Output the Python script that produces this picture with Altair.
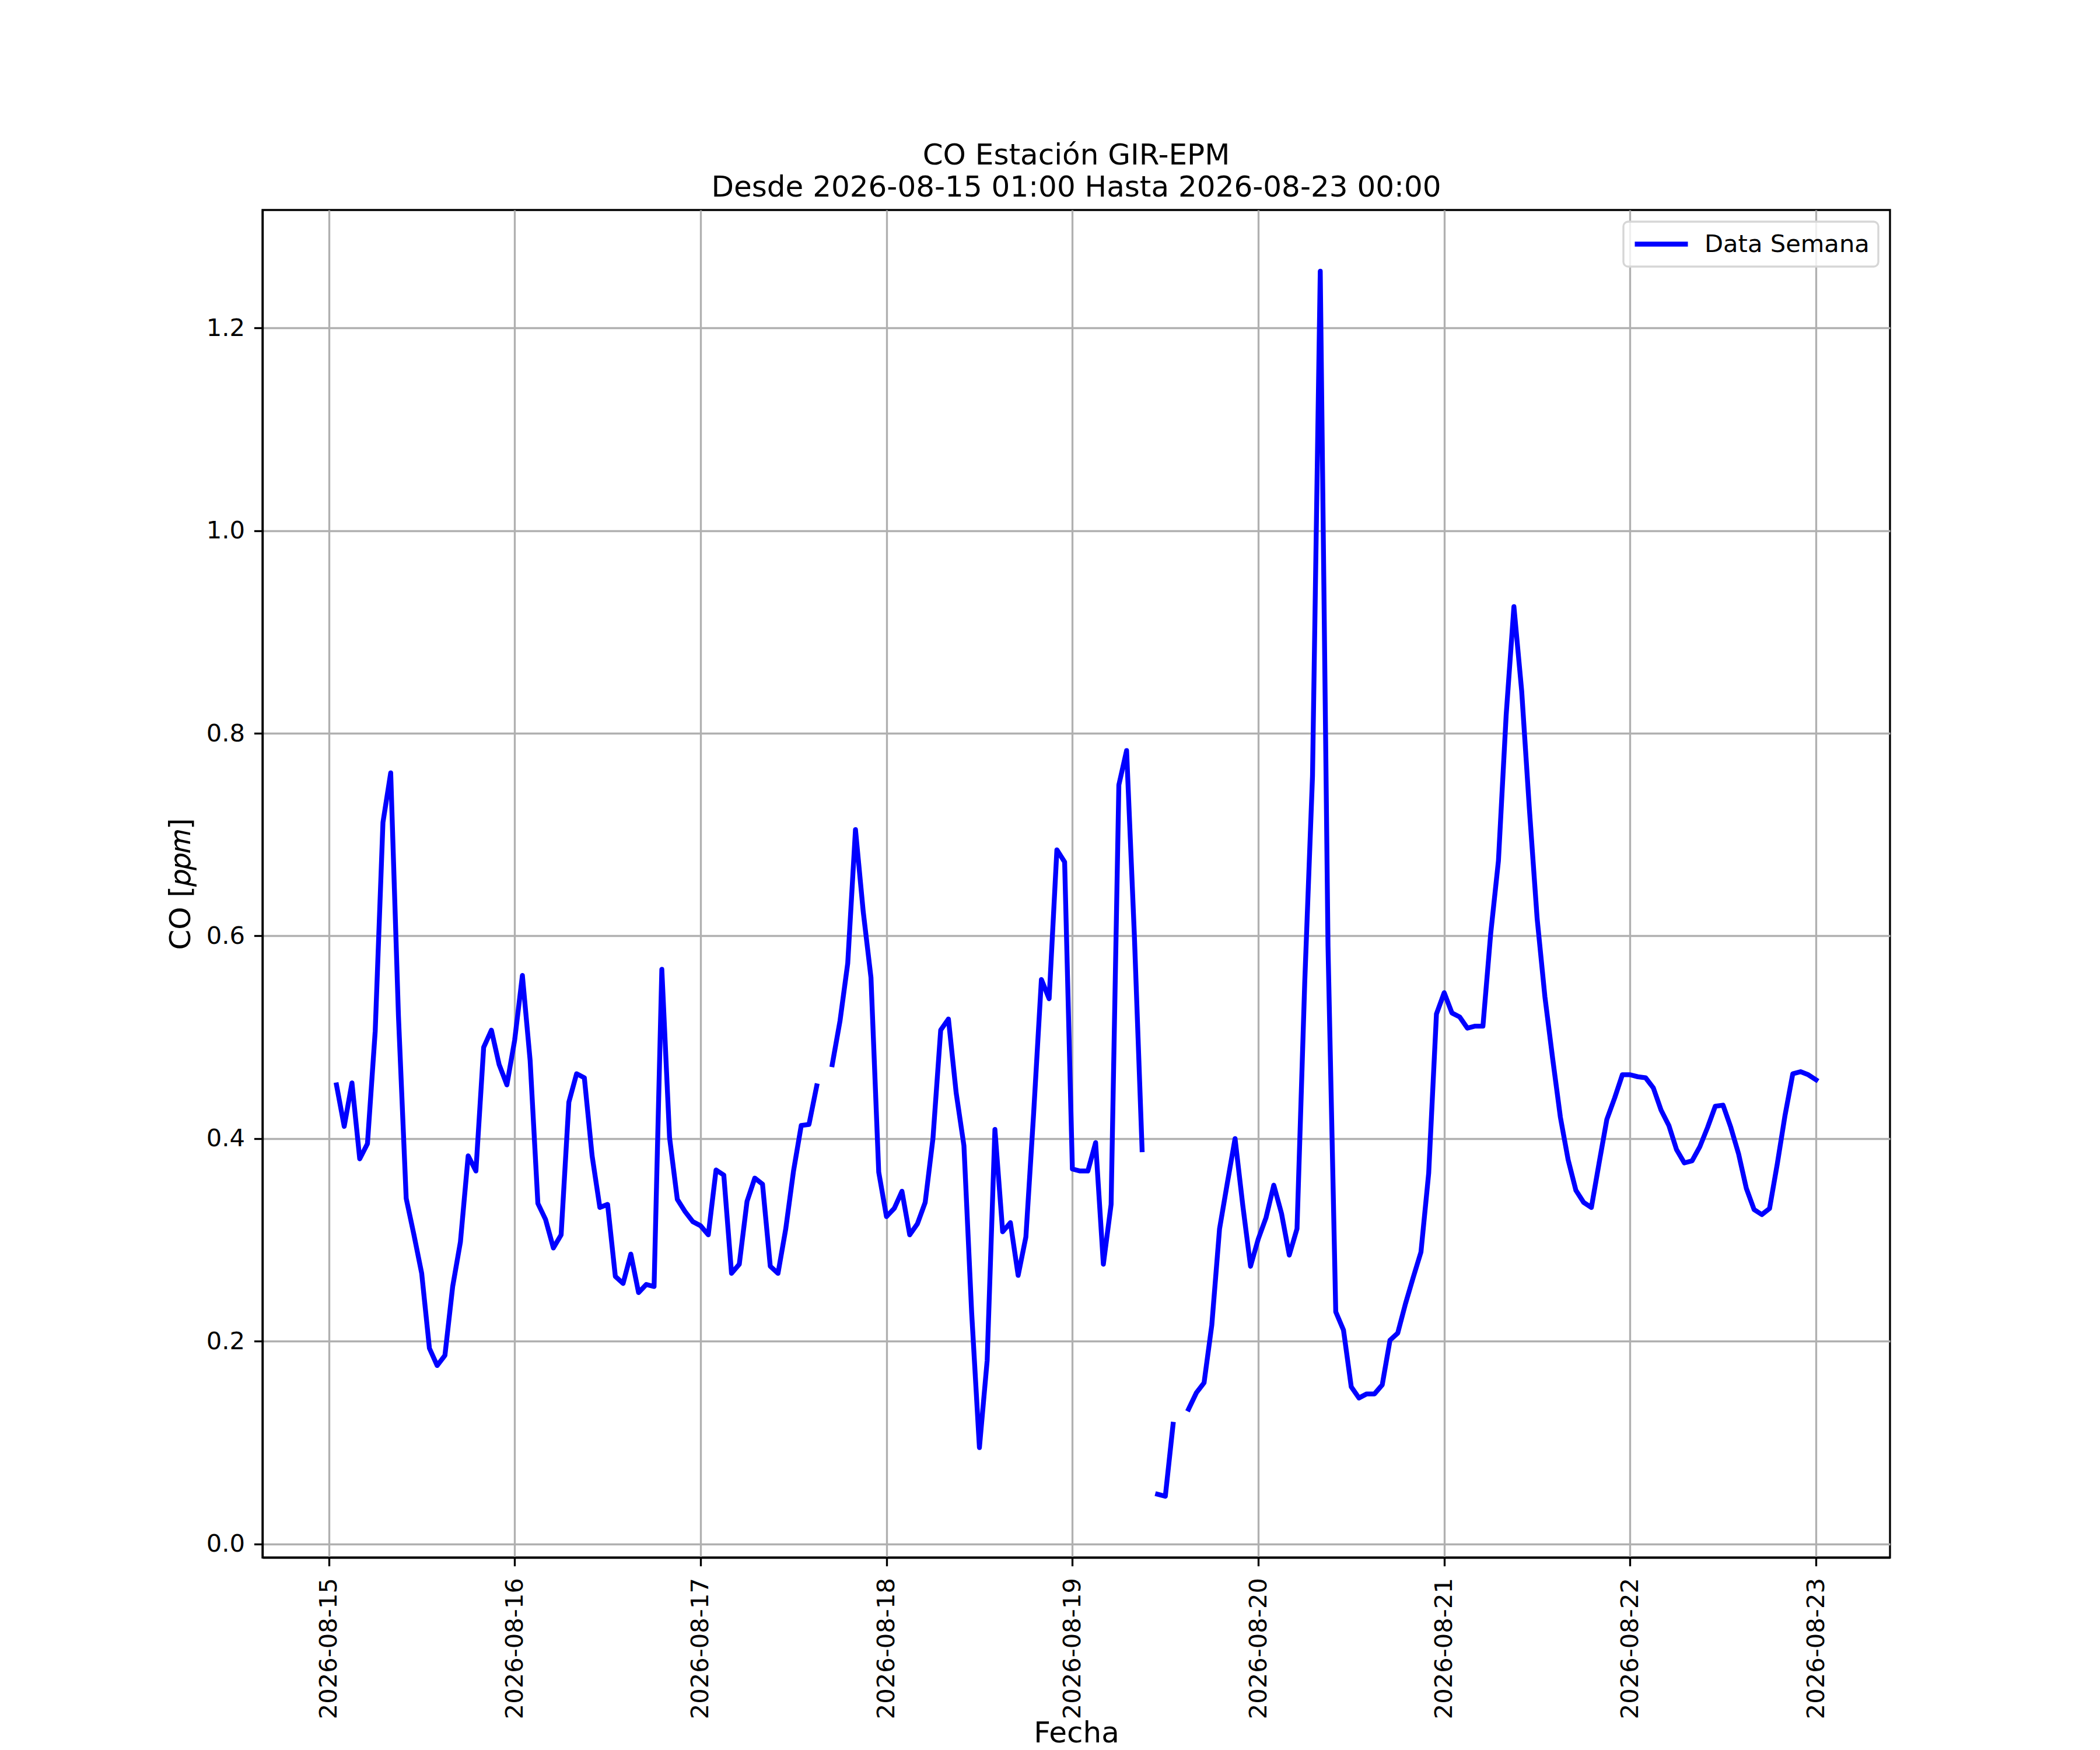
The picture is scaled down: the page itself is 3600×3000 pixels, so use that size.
import altair as alt
import pandas as pd

# Hourly CO readings (ppm); None = missing hour
start = "2026-08-15 01:00"
day1 = [0.453, 0.412, 0.455, 0.380, 0.395, 0.506, 0.712, 0.761, 0.521, 0.341, 0.305, 0.267,
        0.193, 0.176, 0.186, 0.254, 0.298, 0.383, 0.368, 0.490, 0.507, 0.473, 0.453, 0.497]
day2 = [0.561, 0.477, 0.336, 0.320, 0.292, 0.305, 0.436, 0.464, 0.460, 0.383, 0.332, 0.335,
        0.264, 0.257, 0.286, 0.248, 0.256, 0.254, 0.567, 0.401, 0.340, 0.328, 0.318, 0.314]
day3 = [0.305, 0.369, 0.364, 0.267, 0.276, 0.338, 0.361, 0.355, 0.274, 0.267, 0.311, 0.368,
        0.413, 0.414, 0.452, None, 0.473, 0.516, 0.573, 0.705, 0.624, 0.559, 0.367, 0.323]
day4 = [0.331, 0.348, 0.305, 0.316, 0.337, 0.400, 0.507, 0.518, 0.445, 0.393, 0.228, 0.095,
        0.181, 0.409, 0.308, 0.317, 0.265, 0.303, 0.425, 0.557, 0.538, 0.685, 0.673, 0.370]
day5 = [0.368, 0.368, 0.396, 0.276, 0.335, 0.749, 0.783, 0.601, 0.389, None, 0.049, 0.047,
        0.118, None, 0.133, 0.149, 0.159, 0.216, 0.311, 0.356, 0.400, 0.334, 0.274, 0.301]
day6 = [0.322, 0.354, 0.326, 0.285, 0.311, 0.555, 0.758, 1.256, 0.590, 0.229, 0.211, 0.155,
        0.144, 0.148, 0.148, 0.157, 0.201, 0.208, 0.237, 0.263, 0.288, 0.366, 0.523, 0.544]
day7 = [0.524, 0.520, 0.509, 0.511, 0.511, 0.602, 0.674, 0.818, 0.925, 0.842, 0.725, 0.617,
        0.540, 0.479, 0.421, 0.379, 0.349, 0.337, 0.332, 0.376, 0.419, 0.440, 0.463, 0.463]
day8 = [0.461, 0.460, 0.450, 0.428, 0.413, 0.389, 0.376, 0.378, 0.392, 0.411, 0.432, 0.433,
        0.411, 0.385, 0.351, 0.330, 0.325, 0.331, 0.375, 0.423, 0.464, 0.466, 0.463, 0.458]

tick_days = ["2026-08-15", "2026-08-16", "2026-08-17", "2026-08-18", "2026-08-19",
             "2026-08-20", "2026-08-21", "2026-08-22", "2026-08-23"]
y_ticks = [0.0, 0.2, 0.4, 0.6, 0.8, 1.0, 1.2]

values = day1 + day2 + day3 + day4 + day5 + day6 + day7 + day8
times = pd.date_range(start, periods=len(values), freq="h")

seg, s = [], 0
for v in values:
    if v is None:
        s += 1
    seg.append(s)

df = pd.DataFrame({"fecha": times.strftime("%Y-%m-%dT%H:%M:%S"), "co": values, "seg": seg})
df = df[df["co"].notna()].copy()
df["serie"] = "Data Semana"


def dt(ts):
    ts = pd.Timestamp(ts)
    return alt.DateTime(year=ts.year, month=ts.month, date=ts.day,
                        hours=ts.hour, minutes=ts.minute, seconds=ts.second)


t0, t1 = times[0], times[-1]
mx = (t1 - t0) * 0.05
x_dom = [dt(t0 - mx), dt(t1 + mx)]
vals = [v for v in values if v is not None]
vmin, vmax = min(vals), max(vals)
my = (vmax - vmin) * 0.05
y_dom = [vmin - my, vmax + my]

PX = 300 / 72.0  # points -> pixels at 300 dpi
FONT = "DejaVu Sans"

chart = alt.Chart(df).mark_line(
    strokeWidth=2 * PX, strokeCap="square", strokeJoin="round"
).encode(
    x=alt.X("fecha:T", title="Fecha",
            scale=alt.Scale(domain=x_dom, nice=False),
            axis=alt.Axis(values=[dt(d) for d in tick_days], format="%Y-%m-%d",
                          labelAngle=270, labelPadding=20,
                          titleY=316, titleBaseline="alphabetic",
                          labelFlush=False, labelOverlap=False, labelLimit=0)),
    y=alt.Y("co:Q", title="CO [𝑝𝑝𝑚]",
            scale=alt.Scale(domain=y_dom, nice=False, zero=False),
            axis=alt.Axis(values=y_ticks, format=".1f", labelPadding=16, titlePadding=18,
                          labelFlush=False, labelOverlap=False, labelLimit=0)),
    color=alt.Color("serie:N", scale=alt.Scale(domain=["Data Semana"], range=["#0000ff"]),
                    legend=alt.Legend(title=None, orient="top-right", offset=20, labelLimit=0,
                                      clipHeight=47)),
    detail="seg:N",
).properties(
    width=2790, height=2310,
    title=alt.TitleParams(
        text=["CO Estación GIR-EPM", "Desde 2026-08-15 01:00 Hasta 2026-08-23 00:00"],
        font=FONT, fontSize=12 * PX, fontWeight="normal", color="black",
        anchor="middle", offset=13, lineHeight=55),
    padding={"left": 442, "top": 352, "right": 352, "bottom": 345},
    autosize=alt.AutoSizeParams(type="none"),
).configure(
    background="white"
).configure_view(
    stroke="black", strokeWidth=0.8 * PX
).configure_axis(
    domainColor="black", domainWidth=0.8 * PX,
    tickColor="black", tickWidth=0.8 * PX, tickSize=3.5 * PX,
    gridColor="#b0b0b0", gridWidth=0.8 * PX,
    labelFont=FONT, labelFontSize=10 * PX, labelColor="black", labelLimit=0,
    titleFont=FONT, titleFontSize=12 * PX, titleFontWeight="normal", titleColor="black",
).configure_legend(
    symbolType="stroke", symbolSize=8281, symbolStrokeWidth=2 * PX,
    labelFont=FONT, labelFontSize=10 * PX, labelColor="black", labelOffset=24, labelLimit=0,
    padding=15, strokeColor="#d6d6d6", strokeWidth=0.8 * PX,
    fillColor="rgba(255,255,255,0.8)", cornerRadius=8,
)

chart.save("out.html", embed_options={"renderer": "svg", "actions": False})
